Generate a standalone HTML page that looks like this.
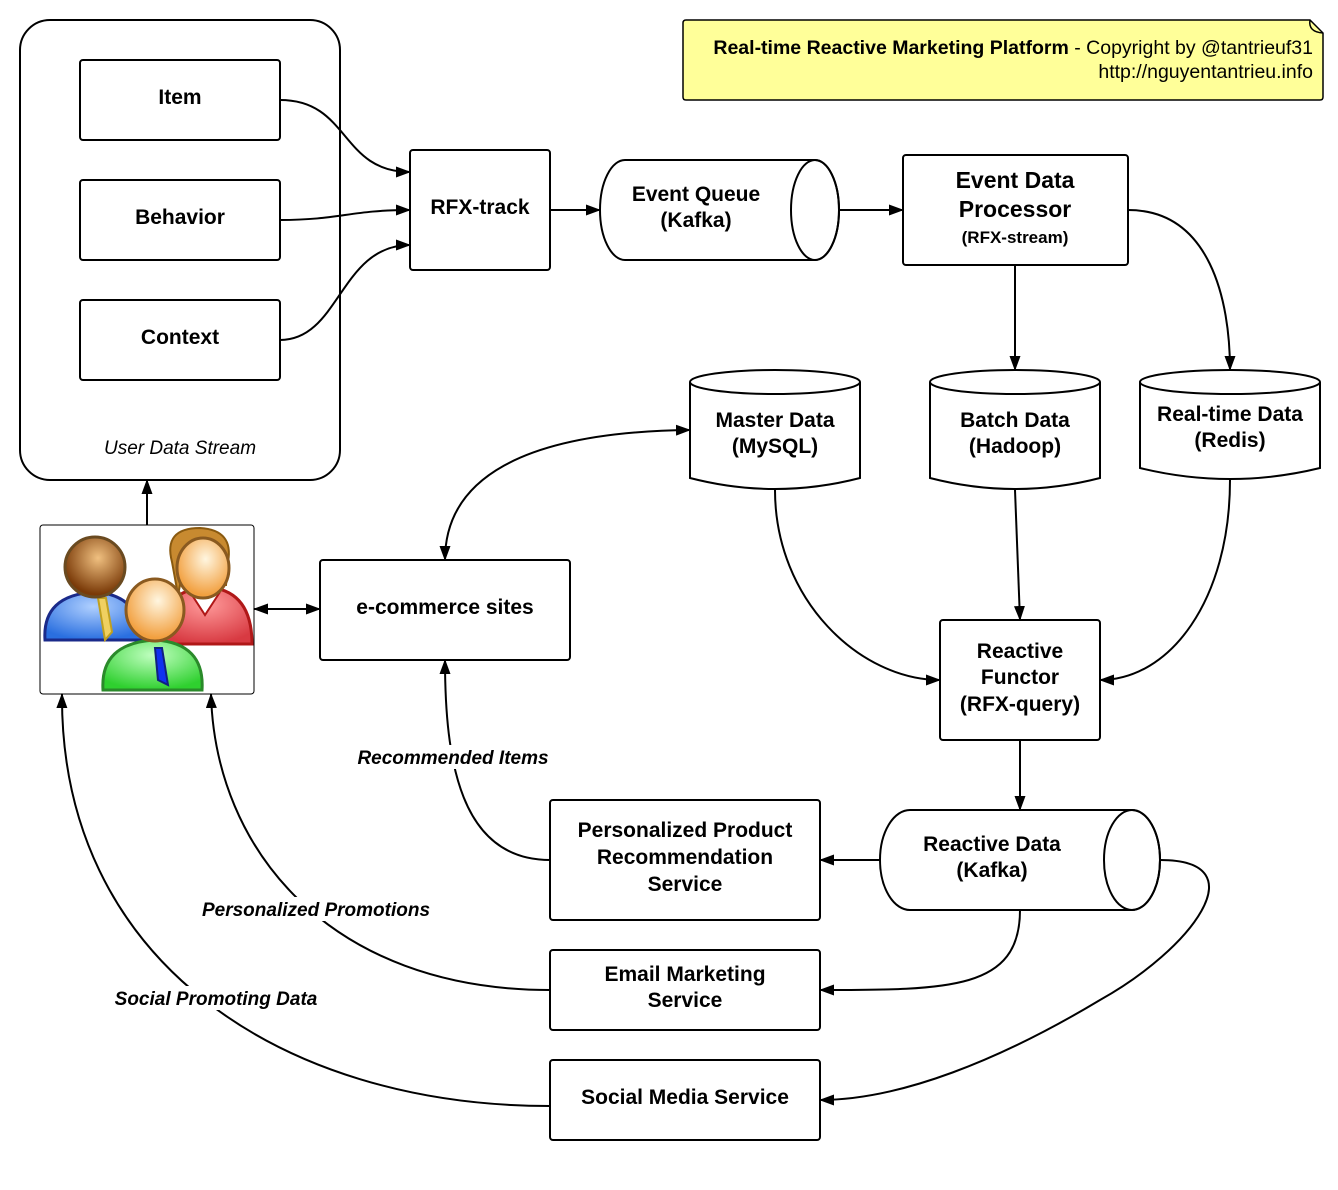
<!DOCTYPE html>
<html><head><meta charset="utf-8"><style>
body{margin:0;background:#fff}
svg text{font-family:"Liberation Sans",sans-serif;fill:#000}
.b{font-weight:bold;font-size:21px}
.i{font-style:italic;font-size:19px}
.bi{font-style:italic;font-weight:bold;font-size:19px}
</style></head><body>
<svg width="1338" height="1185" viewBox="0 0 1338 1185" xmlns="http://www.w3.org/2000/svg">
<defs>
<marker id="a" markerWidth="15" markerHeight="11" refX="14" refY="5.5" orient="auto" markerUnits="userSpaceOnUse"><path d="M0,0 L15,5.5 L0,11 z" fill="#000"/></marker>
<marker id="s" markerWidth="15" markerHeight="11" refX="1" refY="5.5" orient="auto" markerUnits="userSpaceOnUse"><path d="M15,0 L0,5.5 L15,11 z" fill="#000"/></marker>
<radialGradient id="gb" cx="0.5" cy="0.3" r="0.7"><stop offset="0" stop-color="#b0d0ff"/><stop offset="1" stop-color="#2a6fe0"/></radialGradient>
<radialGradient id="gr" cx="0.5" cy="0.3" r="0.7"><stop offset="0" stop-color="#ff9a9a"/><stop offset="1" stop-color="#d83a42"/></radialGradient>
<radialGradient id="gg" cx="0.5" cy="0.3" r="0.7"><stop offset="0" stop-color="#c0ffc0"/><stop offset="1" stop-color="#2fd02f"/></radialGradient>
<radialGradient id="gf" cx="0.55" cy="0.35" r="0.6"><stop offset="0" stop-color="#fff6e0"/><stop offset="1" stop-color="#f2a040"/></radialGradient>
<radialGradient id="gh" cx="0.55" cy="0.35" r="0.6"><stop offset="0" stop-color="#f0c080"/><stop offset="1" stop-color="#7a3a08"/></radialGradient>
</defs>
<g fill="none" stroke="#000" stroke-width="2">
<rect x="20" y="20" width="320" height="460" rx="30" fill="#fff"/>
<rect x="80" y="60" width="200" height="80" rx="3"/>
<rect x="80" y="180" width="200" height="80" rx="3"/>
<rect x="80" y="300" width="200" height="80" rx="3"/>
<rect x="410" y="150" width="140" height="120" rx="3"/>
<rect x="903" y="155" width="225" height="110" rx="3"/>
<rect x="940" y="620" width="160" height="120" rx="3"/>
<rect x="550" y="800" width="270" height="120" rx="3"/>
<rect x="550" y="950" width="270" height="80" rx="3"/>
<rect x="550" y="1060" width="270" height="80" rx="3"/>
<rect x="320" y="560" width="250" height="100" rx="3"/>
<rect x="40" y="525" width="214" height="169" rx="3" stroke-width="1"/>
<path d="M625,160 L815,160 A24,50 0 0 1 815,260 L625,260 A25,50 0 0 1 625,160 z"/>
<ellipse cx="815" cy="210" rx="24" ry="50"/>
<path d="M910,810 L1132,810 A28,50 0 0 1 1132,910 L910,910 A30,50 0 0 1 910,810 z"/>
<ellipse cx="1132" cy="860" rx="28" ry="50"/>
<path d="M690,382 L690,478 Q775,500 860,478 L860,382"/>
<ellipse cx="775" cy="382" rx="85" ry="12"/>
<path d="M930,382 L930,478 Q1015,500 1100,478 L1100,382"/>
<ellipse cx="1015" cy="382" rx="85" ry="12"/>
<path d="M1140,382 L1140,468 Q1230,490 1320,468 L1320,382"/>
<ellipse cx="1230" cy="382" rx="90" ry="12"/>
<path d="M686,20 L1310,20 L1323,33 L1323,97 Q1323,100 1320,100 L686,100 Q683,100 683,97 L683,23 Q683,20 686,20 z" fill="#ffff99" stroke-width="1.5"/>
<path d="M1310,20 Q1308,32 1323,33" stroke-width="1.5"/>
<path d="M280,100 C350,100 340,172 410,172" marker-end="url(#a)"/>
<path d="M280,220 C340,220 350,210 410,210" marker-end="url(#a)"/>
<path d="M280,340 C340,340 340,245 410,245" marker-end="url(#a)"/>
<path d="M550,210 L600,210" marker-end="url(#a)"/>
<path d="M840,210 L903,210" marker-end="url(#a)"/>
<path d="M1015,265 L1015,370" marker-end="url(#a)"/>
<path d="M1128,210 C1210,210 1230,300 1230,370" marker-end="url(#a)"/>
<path d="M1015,490 L1020,620" marker-end="url(#a)"/>
<path d="M775,490 C775,600 860,680 940,680" marker-end="url(#a)"/>
<path d="M1230,480 C1230,600 1170,680 1100,680" marker-end="url(#a)"/>
<path d="M1020,740 L1020,810" marker-end="url(#a)"/>
<path d="M880,860 L820,860" marker-end="url(#a)"/>
<path d="M1020,910 C1020,990 950,990 820,990" marker-end="url(#a)"/>
<path d="M1160,860 C1260,860 1190,950 1100,1000 C1000,1060 900,1100 820,1100" marker-end="url(#a)"/>
<path d="M690,430 C520,432 445,480 445,560" marker-start="url(#s)" marker-end="url(#a)"/>
<path d="M254,609 L320,609" marker-start="url(#s)" marker-end="url(#a)"/>
<path d="M147,525 L147,480" marker-end="url(#a)"/>
<path d="M550,860 C460,860 445,760 445,660" marker-end="url(#a)"/>
<path d="M550,990 C330,990 215,850 211,694" marker-end="url(#a)"/>
<path d="M550,1106 C280,1106 60,960 62,694" marker-end="url(#a)"/>
</g>
<rect x="348" y="745" width="210" height="24" fill="#fff"/>
<rect x="193" y="897" width="246" height="24" fill="#fff"/>
<rect x="104" y="986" width="222" height="24" fill="#fff"/>
<g stroke-width="3">
<path d="M160,644 Q158,590 207,587 Q252,590 252,644 Z" fill="url(#gr)" stroke="#b01818"/>
<path d="M190,592 L205,615 L220,592" fill="#fff" stroke="#b01818" stroke-width="2"/>
<path d="M172,562 Q163,528 200,528 Q234,530 228,562 L226,585 L215,585 L215,560 L185,560 L178,595 Z" fill="#c88a30" stroke="#8a5a10" stroke-width="2"/>
<ellipse cx="203" cy="568" rx="26" ry="30" fill="url(#gf)" stroke="#8a5a20"/>
<path d="M45,640 Q42,595 95,592 Q140,595 142,640 Z" fill="url(#gb)" stroke="#1a2a8a"/>
<path d="M98,598 L105,640 L112,632 L106,598 Z" fill="#f0d060" stroke="#c0a020" stroke-width="2"/>
<circle cx="95" cy="567" r="30" fill="url(#gh)" stroke="#6a4a20"/>
<path d="M103,690 Q100,643 155,640 Q205,643 202,690 Z" fill="url(#gg)" stroke="#2a8a2a"/>
<path d="M155,648 L158,680 L168,685 L162,648 Z" fill="#1030f0" stroke="#102080" stroke-width="2"/>
<ellipse cx="155" cy="610" rx="29" ry="31" fill="url(#gf)" stroke="#8a5a20"/>
</g>
<g class="b" text-anchor="middle">
<text x="180" y="104">Item</text>
<text x="180" y="224">Behavior</text>
<text x="180" y="344">Context</text>
<text x="480" y="214">RFX-track</text>
<text x="696" y="201">Event Queue</text><text x="696" y="227">(Kafka)</text>
<text x="1015" y="188" font-size="23">Event Data</text><text x="1015" y="217" font-size="23">Processor</text>
<text x="1015" y="243" font-size="17">(RFX-stream)</text>
<text x="775" y="427">Master Data</text><text x="775" y="453">(MySQL)</text>
<text x="1015" y="427">Batch Data</text><text x="1015" y="453">(Hadoop)</text>
<text x="1230" y="421">Real-time Data</text><text x="1230" y="447">(Redis)</text>
<text x="1020" y="658">Reactive</text><text x="1020" y="684">Functor</text><text x="1020" y="711">(RFX-query)</text>
<text x="992" y="851">Reactive Data</text><text x="992" y="877">(Kafka)</text>
<text x="685" y="837">Personalized Product</text><text x="685" y="864">Recommendation</text><text x="685" y="891">Service</text>
<text x="685" y="981">Email Marketing</text><text x="685" y="1007">Service</text>
<text x="685" y="1104">Social Media Service</text>
<text x="445" y="614">e-commerce sites</text>
</g>
<text x="180" y="454" class="i" text-anchor="middle">User Data Stream</text>
<text x="453" y="764" class="bi" text-anchor="middle">Recommended Items</text>
<text x="316" y="916" class="bi" text-anchor="middle">Personalized Promotions</text>
<text x="216" y="1005" class="bi" text-anchor="middle">Social Promoting Data</text>
<text x="1313" y="54" text-anchor="end" font-size="19.5"><tspan font-weight="bold">Real-time Reactive Marketing Platform</tspan> - Copyright by @tantrieuf31</text>
<text x="1313" y="78" text-anchor="end" font-size="19.5">http://nguyentantrieu.info</text>
</svg>
</body></html>
